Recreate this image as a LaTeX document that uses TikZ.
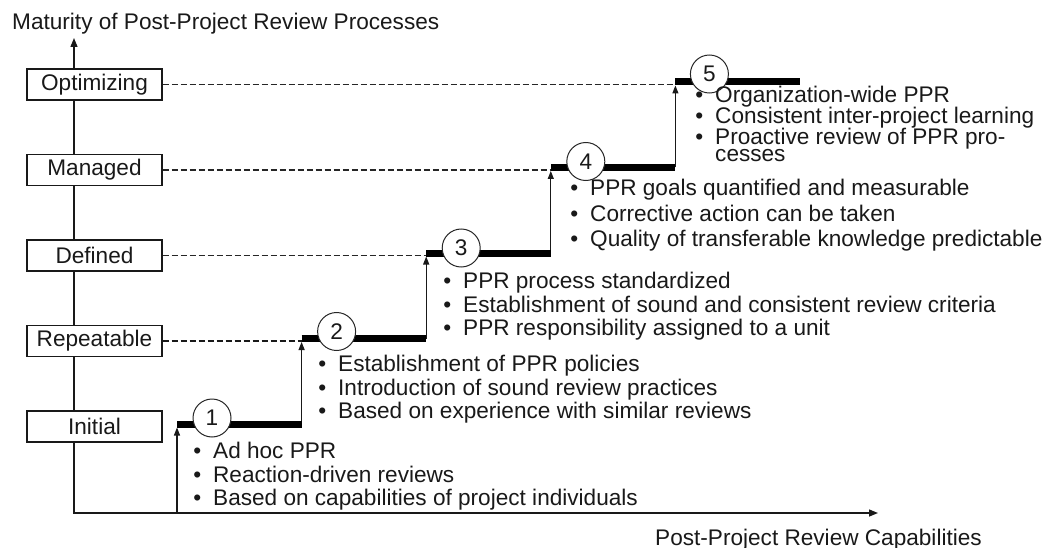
\documentclass[tikz,border=0pt]{standalone}
\usepackage{fontspec}
\setmainfont{Liberation Sans}
\usetikzlibrary{arrows.meta}
\newcommand\itembullet{\llap{\textbullet\hspace{12pt}}}
\begin{document}
\begin{tikzpicture}[x=1pt,y=-1pt,
  font=\fontsize{22.6}{24}\selectfont,
  every node/.style={text=black!90},
  axis/.style={line width=1.4pt,draw=black!90},
  level/.style={draw=black!90,line width=1.2pt,fill=white,minimum width=135pt,minimum height=31pt,inner sep=0pt},
  guide/.style={draw=black!85,line width=1.1pt,dash pattern=on 6pt off 3pt},
  guidebold/.style={draw=black!90,line width=2.6pt,dash pattern=on 6pt off 3pt},
  tread/.style={draw=black,line width=7pt},
  riser/.style={draw=black!90,line width=1.1pt,-{Triangle[length=8pt,width=6pt]}},
  stage/.style={circle,draw=black!85,line width=1pt,fill=white,minimum size=38pt,inner sep=0pt},
  item/.style={anchor=base west,inner sep=0pt}]
\useasboundingbox (0,0) rectangle (1051,548);

% axes
\coordinate (o) at (74,513);
\coordinate (ytip) at (74,38);
\coordinate (xtip) at (878,513);
\draw[axis,{Triangle[length=9pt,width=7pt]}-{Triangle[length=9pt,width=7pt]}] (ytip) -- (o) -- (xtip);

\node[anchor=base west,inner sep=0pt] (ytitle) at (12,30) {Maturity of Post-Project Review Processes};
\node[anchor=base west,inner sep=0pt] (xtitle) at (655,545) {Post-Project Review Capabilities};

% maturity levels
\node[level] (lvInitial) at (94.5,426.5) {Initial};
\node[level] (lvRepeat)  at (94.5,341)   {Repeatable};
\node[level] (lvDefined) at (94.5,255.5) {Defined};
\node[level] (lvManaged) at (94.5,170)   {Managed};
\node[level] (lvOptim)   at (94.5,84.5)  {Optimizing};

% staircase corners
\coordinate (f1) at (177,513);
\coordinate (a1) at (177,424);   \coordinate (b1) at (301.6,424);
\coordinate (a2) at (301.6,338.5); \coordinate (b2) at (426.2,338.5);
\coordinate (a3) at (426.2,253); \coordinate (b3) at (550.8,253);
\coordinate (a4) at (550.8,167.5); \coordinate (b4) at (675.4,167.5);
\coordinate (a5) at (675.4,82);  \coordinate (b5) at (800,82);

% guide lines from the level boxes
\draw[guidebold] (lvRepeat.east) -- (lvRepeat.east -| a2);
\draw[guide] (lvDefined.east) -- (lvDefined.east -| a3);
\draw[guide] (lvManaged.east) -- (lvManaged.east -| a4);
\draw[guide] (lvOptim.east) -- (lvOptim.east -| a5);

% risers
\draw[riser] (f1) -- ([yshift=-3.5pt]a1);
\draw[riser] (b1) -- ([yshift=-3.5pt]a2);
\draw[riser] (b2) -- ([yshift=-3.5pt]a3);
\draw[riser] (b3) -- ([yshift=-3.5pt]a4);
\draw[riser] (b4) -- ([yshift=-3.5pt]a5);

% treads
\draw[tread] (a1) -- (b1);
\draw[tread] (a2) -- (b2);
\draw[tread] (a3) -- (b3);
\draw[tread] (a4) -- (b4);
\draw[tread] (a5) -- (b5);

% stage numbers
\node[stage] (n1) at ([xshift=35pt,yshift=6pt]a1) {1};
\node[stage] (n2) at ([xshift=35pt,yshift=7pt]a2) {2};
\node[stage] (n3) at ([xshift=35pt,yshift=5pt]a3) {3};
\node[stage] (n4) at ([xshift=35pt,yshift=6pt]a4) {4};
\node[stage] (n5) at ([xshift=34pt,yshift=8pt]a5) {5};

% stage 1
\node[item] (t1a) at (213,458) {\itembullet Ad hoc PPR};
\node[item] (t1b) at (213,482) {\itembullet Reaction-driven reviews};
\node[item] (t1c) at (213,505) {\itembullet Based on capabilities of project individuals};
% stage 2
\node[item] (t2a) at (338,371) {\itembullet Establishment of PPR policies};
\node[item] (t2b) at (338,395) {\itembullet Introduction of sound review practices};
\node[item] (t2c) at (338,418) {\itembullet Based on experience with similar reviews};
% stage 3
\node[item] (t3a) at (463,288) {\itembullet PPR process standardized};
\node[item] (t3b) at (463,312) {\itembullet Establishment of sound and consistent review criteria};
\node[item] (t3c) at (463,335) {\itembullet PPR responsibility assigned to a unit};
% stage 4
\node[item] (t4a) at (590,196) {\itembullet PPR goals quantified and measurable};
\node[item] (t4b) at (590,221) {\itembullet Corrective action can be taken};
\node[item] (t4c) at (590,246) {\itembullet Quality of transferable knowledge predictable};
% stage 5
\node[item] (t5a) at (715,103) {\itembullet Organization-wide PPR};
\node[item] (t5b) at (715,124) {\itembullet Consistent inter-project learning};
\node[item] (t5c) at (715,145) {\itembullet Proactive review of PPR pro-};
\node[item] (t5d) at (715,161) {cesses};
\end{tikzpicture}
\end{document}
